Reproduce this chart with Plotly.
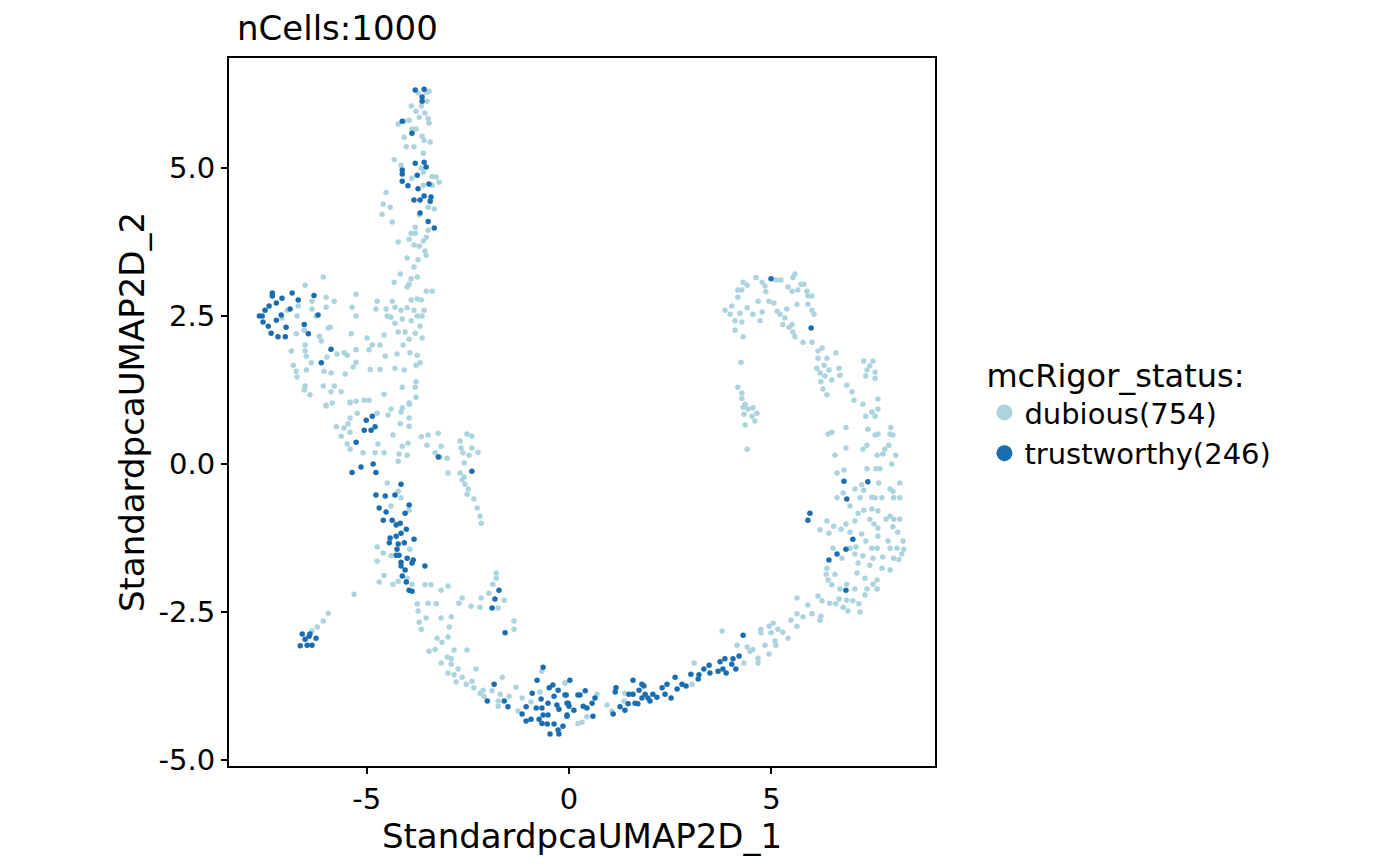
import plotly.graph_objects as go

## point positions, (UMAP_1, UMAP_2)
trustworthy_pts = [
    (-3.80, 6.32), (-3.58, 6.33), (-3.63, 6.20), (-3.63, 6.13), (-4.12, 5.79), (-3.88, 5.59),
    (-3.80, 5.08), (-3.58, 5.10), (-3.53, 5.02), (-4.12, 4.97), (-4.12, 4.90), (-4.12, 4.78),
    (-3.98, 4.70), (-3.73, 4.65), (-3.46, 4.73), (-3.58, 4.53), (-3.41, 4.51), (-3.43, 4.44),
    (-3.83, 4.46), (-3.68, 4.46), (-3.68, 4.24), (-3.48, 4.10), (-3.33, 3.99), (-3.75, 4.88),
    (-7.33, 2.89), (-7.33, 2.84), (-7.09, 2.80), (-6.84, 2.89), (-6.69, 2.77), (-6.30, 2.85),
    (-7.23, 2.72), (-7.41, 2.67), (-7.51, 2.60), (-7.65, 2.50), (-7.58, 2.50), (-7.11, 2.52),
    (-7.23, 2.43), (-7.56, 2.40), (-7.43, 2.33), (-6.99, 2.31), (-7.36, 2.21), (-7.19, 2.15),
    (-7.01, 2.15), (-6.54, 2.36), (-6.44, 2.20), (-6.20, 2.52), (-6.89, 2.62), (-5.88, 1.94),
    (-6.12, 1.71),
    (-5.01, 0.74), (-4.86, 0.81), (-5.06, 0.57), (-4.89, 0.57), (-4.79, 0.63), (-5.26, 0.37),
    (-5.36, -0.14), (-5.14, -0.05), (-4.84, 0.00), (-4.77, -0.14), (-4.15, -0.34), (-4.77, -0.52),
    (-4.54, -0.54), (-4.30, -0.52), (-3.95, -0.69), (-4.69, -0.74), (-4.52, -0.81), (-4.05, -0.83),
    (-4.59, -0.95), (-4.37, -0.95), (-4.27, -1.03), (-4.17, -1.00), (-4.02, -1.10), (-4.42, -1.25),
    (-4.27, -1.22), (-4.15, -1.17), (-3.83, -1.27), (-4.44, -1.33), (-4.22, -1.35), (-4.07, -1.33),
    (-4.25, -1.44), (-4.27, -1.54), (-4.20, -1.54), (-4.00, -1.59), (-3.85, -1.62), (-4.15, -1.66),
    (-3.88, -1.67), (-4.15, -1.72), (-3.56, -1.72), (-4.05, -1.79), (-4.12, -1.89), (-4.02, -1.99),
    (-3.95, -2.13), (-3.88, -2.15), (-2.40, -0.12), (-3.23, 0.12),
    (-6.59, -2.87), (-6.40, -2.87), (-6.25, -2.94), (-6.52, -2.96), (-6.64, -3.07), (-6.47, -3.06),
    (-6.35, -3.06), (-6.42, -2.91),
    (-1.73, -2.13), (-1.83, -2.28), (-1.90, -2.43), (-1.58, -2.85),
    (-0.64, -3.43), (-0.79, -3.65), (0.02, -3.65), (-1.85, -3.72), (-2.02, -4.00), (-1.60, -4.00),
    (-1.51, -4.10), (-0.91, -3.87), (-0.69, -3.97), (-0.49, -3.78), (-0.40, -3.73), (-0.27, -3.82),
    (-0.37, -3.92), (-0.07, -3.90), (0.22, -3.90), (-1.06, -4.10), (-0.81, -4.12), (-0.67, -4.12),
    (-0.52, -4.04), (-0.30, -4.07), (-0.02, -4.04), (0.00, -4.09), (0.12, -4.16), (-1.16, -4.22),
    (-1.06, -4.34), (-0.94, -4.31), (-0.74, -4.31), (-0.64, -4.24), (-0.52, -4.24), (-0.25, -4.14),
    (-0.05, -4.24), (-0.67, -4.38), (-0.54, -4.39), (-0.37, -4.39), (-0.15, -4.43), (-0.27, -4.49),
    (-0.47, -4.56), (-0.25, -4.56),
    (4.99, 3.13), (5.98, 2.30), (6.79, -0.29), (7.38, -0.30), (6.86, -0.59), (5.95, -0.83),
    (5.90, -0.95), (7.01, -1.27), (6.84, -1.44), (6.62, -1.52), (6.42, -1.62), (6.84, -2.13),
    (4.30, -2.89), (4.20, -3.24), (4.05, -3.29), (4.12, -3.46), (4.02, -3.38), (3.85, -3.29),
    (3.73, -3.34), (3.88, -3.53), (3.80, -3.46), (3.68, -3.50), (3.46, -3.40), (3.48, -3.53),
    (3.33, -3.46), (3.21, -3.56), (3.19, -3.63), (3.01, -3.55), (2.62, -3.60), (2.42, -3.72),
    (2.30, -3.78), (2.37, -3.89), (2.67, -3.80), (2.79, -3.72), (2.89, -3.75), (2.52, -3.95),
    (1.58, -3.65), (1.80, -3.72), (1.85, -3.75), (1.73, -3.82), (1.88, -3.89), (1.95, -3.95),
    (2.07, -3.89), (2.17, -3.94), (1.58, -3.89), (1.48, -3.89), (1.16, -3.78), (1.14, -3.85),
    (1.80, -3.95), (2.00, -4.00), (1.70, -4.05), (1.63, -4.04), (1.46, -4.05), (1.26, -4.10),
    (1.38, -4.16), (1.09, -4.22), (0.59, -4.26), (0.57, -4.04), (0.40, -3.83), (0.27, -3.90),
    (0.35, -4.09), (0.44, -4.12), (0.64, -3.95), (-0.10, -3.90), (-0.05, -4.04), (-0.05, -4.26),
]

dubious_pts = [
    # top stem
    (-3.46, 6.30), (-3.53, 6.28), (-3.73, 6.27), (-3.51, 6.13), (-3.90, 6.05), (-3.65, 6.05),
    (-3.78, 5.96), (-3.56, 5.93), (-3.70, 5.86), (-3.48, 5.84), (-3.46, 5.76), (-3.95, 5.81),
    (-4.07, 5.79), (-4.22, 5.74), (-3.88, 5.66), (-3.78, 5.66), (-3.63, 5.54), (-4.07, 5.52),
    (-3.58, 5.47), (-3.43, 5.44), (-4.02, 5.36), (-3.83, 5.36), (-3.60, 5.25), (-4.32, 5.14),
    (-4.15, 5.05), (-3.65, 5.00), (-3.60, 4.93), (-3.88, 4.83), (-3.38, 4.86), (-3.28, 4.85),
    (-3.21, 4.76), (-3.60, 4.71), (-3.38, 4.71), (-4.52, 4.59), (-4.59, 4.39), (-4.42, 4.34),
    (-4.62, 4.22), (-4.37, 4.09), (-3.48, 4.34), (-3.33, 4.31), (-3.70, 4.21), (-3.80, 4.00),
    (-3.90, 3.90), (-3.80, 3.90), (-3.48, 3.95), (-3.95, 3.80), (-4.22, 3.75), (-3.53, 3.83),
    (-3.60, 3.77), (-3.83, 3.70), (-3.70, 3.68), (-3.56, 3.60), (-3.53, 3.53), (-4.00, 3.48),
    (-3.73, 3.45), (-3.83, 3.33), (-4.17, 3.21), (-3.75, 3.16), (-3.90, 3.13), (-4.32, 3.07),
    (-3.95, 3.04), (-4.00, 2.99), (-3.53, 2.92), (-3.38, 2.92), (-6.07, 3.16), (-6.52, 3.02),
    # upper-left band
    (-6.00, 2.82), (-5.80, 2.75), (-5.26, 2.87), (-4.74, 2.75), (-4.37, 2.75), (-3.90, 2.77),
    (-3.75, 2.79), (-3.65, 2.77), (-6.35, 2.75), (-6.35, 2.62), (-6.00, 2.65), (-5.36, 2.65),
    (-4.77, 2.62), (-4.52, 2.62), (-4.30, 2.65), (-4.15, 2.60), (-4.00, 2.64), (-3.83, 2.60),
    (-3.58, 2.60), (-3.75, 2.50), (-3.63, 2.50), (-6.69, 2.67), (-6.72, 2.50), (-6.96, 2.60),
    (-7.09, 2.47), (-6.25, 2.50), (-5.26, 2.50), (-4.49, 2.50), (-4.40, 2.48), (-4.12, 2.45),
    (-4.30, 2.38), (-3.90, 2.42), (-3.68, 2.33), (-6.54, 2.26), (-6.74, 2.20), (-5.95, 2.30),
    (-5.90, 2.31), (-6.17, 2.16), (-6.12, 2.08), (-5.38, 2.20), (-4.99, 2.13), (-4.57, 2.18),
    (-4.22, 2.23), (-4.05, 2.23), (-3.95, 2.11), (-3.63, 2.13), (-3.80, 2.21), (-6.52, 2.01),
    (-6.52, 1.91), (-6.86, 1.91), (-6.49, 1.82), (-5.98, 1.81), (-5.73, 1.86), (-5.56, 1.88),
    (-5.48, 1.84), (-5.26, 1.93), (-4.86, 2.01), (-4.67, 2.01), (-4.94, 1.93), (-4.54, 1.82),
    (-4.25, 1.86), (-4.10, 2.01), (-3.93, 1.88), (-3.75, 1.84), (-6.37, 1.71), (-6.81, 1.67),
    (-6.74, 1.57), (-6.72, 1.47), (-6.49, 1.59), (-6.05, 1.57), (-5.88, 1.54), (-5.53, 1.52),
    (-5.33, 1.64), (-5.26, 1.72), (-4.91, 1.60), (-4.67, 1.60), (-4.30, 1.62), (-4.07, 1.59),
    (-3.78, 1.67), (-3.68, 1.71), (-6.52, 1.32), (-6.54, 1.25), (-6.40, 1.17), (-6.07, 1.32),
    (-5.80, 1.32), (-5.63, 1.22), (-5.88, 1.22), (-6.00, 1.00), (-5.41, 1.05), (-5.26, 1.06),
    (-5.06, 1.08), (-4.94, 1.08), (-4.57, 1.18), (-4.12, 1.30), (-3.78, 1.39), (-3.80, 1.30),
    (-3.78, 1.13), (-3.95, 1.03),
    # middle-left
    (-6.00, 0.98), (-5.85, 1.03), (-5.41, 1.03), (-5.23, 0.86), (-5.41, 0.78), (-5.46, 0.68),
    (-5.75, 0.63), (-5.56, 0.61), (-5.63, 0.47), (-5.41, 0.54), (-5.48, 0.34), (-5.41, 0.25),
    (-5.09, 0.19), (-4.74, 0.86), (-4.47, 0.83), (-4.40, 0.93), (-4.12, 0.95), (-3.95, 1.01),
    (-4.15, 0.88), (-3.95, 0.78), (-4.17, 0.68), (-3.95, 0.64), (-4.35, 0.49), (-4.72, 0.34),
    (-4.79, 0.19), (-4.57, 0.19), (-4.12, 0.30), (-3.98, 0.35), (-4.20, 0.17), (-4.00, 0.15),
    (-4.22, 0.05), (-3.65, 0.46), (-3.48, 0.49), (-3.23, 0.52), (-3.51, 0.32), (-3.16, 0.30),
    (-3.31, 0.19), (-3.19, 0.12), (-3.01, 0.10), (-2.99, -0.15), (-2.69, 0.39), (-2.52, 0.51),
    (-2.40, 0.47), (-2.67, 0.27), (-2.40, 0.27), (-2.25, 0.20), (-2.62, 0.19), (-2.47, 0.15),
    (-2.59, 0.02), (-2.69, -0.15), (-2.59, -0.22), (-2.64, -0.27), (-2.57, -0.34), (-2.49, -0.42),
    (-2.52, -0.51), (-2.35, -0.59), (-2.27, -0.74), (-2.20, -0.88), (-2.17, -1.00), (-4.49, -0.32),
    (-4.22, -0.46), (-4.15, -0.57), (-4.40, -0.71), (-3.95, -0.78), (-4.27, -1.01), (-4.74, -1.40),
    (-4.59, -1.50), (-4.40, -1.55), (-3.93, -1.44), (-4.74, -1.64), (-4.57, -1.88), (-4.69, -1.99),
    (-4.35, -2.03), (-4.22, -1.98), (-4.00, -1.93), (-3.88, -2.03), (-3.56, -2.04), (-3.41, -2.04),
    (-3.16, -2.13), (-2.99, -2.06), (-3.75, -2.36), (-3.73, -2.48), (-3.48, -2.35), (-3.28, -2.36),
    # lower arc
    (-3.70, -2.67), (-3.65, -2.79), (-3.53, -2.60), (-3.16, -2.60), (-2.91, -2.58), (-2.96, -2.75),
    (-3.26, -2.94), (-2.99, -2.92), (-3.14, -3.01), (-3.46, -3.16), (-3.31, -3.13), (-2.84, -3.14),
    (-2.52, -3.14), (-3.01, -3.26), (-2.91, -3.29), (-3.16, -3.36), (-2.91, -3.38), (-2.99, -3.53),
    (-2.74, -3.46), (-2.84, -3.56), (-2.64, -3.60), (-2.79, -3.68), (-2.54, -3.72), (-2.30, -3.46),
    (-2.40, -3.67), (-2.35, -3.78), (-2.20, -3.87), (-2.12, -3.82), (-2.10, -3.92), (-1.90, -3.83),
    (-1.65, -3.60), (-1.70, -3.89), (-1.48, -3.92), (-1.75, -4.00), (-1.75, -4.09), (-1.31, -3.77),
    (-1.16, -3.95), (-1.26, -4.17), (-0.94, -4.02), (-0.72, -3.85), (-0.67, -3.50), (-0.10, -3.70),
    (0.22, -4.38),
    (-5.31, -2.20), (-5.95, -2.52), (-6.07, -2.65), (-6.22, -2.75), (-6.35, -2.82),
    (-1.80, -1.84), (-1.80, -1.93), (-1.88, -2.03), (-1.98, -2.18), (-1.60, -2.30), (-2.17, -2.26),
    (-2.42, -2.40), (-2.20, -2.42), (-2.72, -2.35), (-2.64, -2.26), (-1.75, -2.43), (-1.36, -2.65),
    (-1.36, -2.79),
    # right arch
    (4.62, 3.15), (4.30, 3.07), (4.40, 3.02), (4.17, 2.94), (4.27, 2.94), (4.17, 2.82),
    (4.77, 3.07), (4.84, 3.01), (4.86, 2.91), (5.11, 3.11), (5.23, 3.11), (5.58, 3.21),
    (5.53, 3.15), (5.73, 3.04), (5.80, 3.04), (5.41, 2.99), (5.51, 2.92), (5.65, 2.94),
    (5.88, 2.92), (5.90, 2.84), (6.00, 2.84), (5.63, 2.70), (5.90, 2.70), (6.00, 2.60),
    (6.05, 2.53), (4.02, 2.67), (3.85, 2.60), (3.98, 2.53), (4.22, 2.55), (4.10, 2.42),
    (4.27, 2.40), (4.10, 2.26), (4.30, 2.15), (4.40, 2.64), (4.54, 2.53), (4.67, 2.75),
    (4.77, 2.57), (4.72, 2.42), (4.94, 2.75), (5.06, 2.72), (5.14, 2.58), (5.21, 2.53),
    (5.38, 2.62), (5.33, 2.47), (5.28, 2.36), (5.51, 2.36), (5.43, 2.31), (5.53, 2.23),
    (5.58, 2.15), (5.78, 2.06), (6.00, 2.06), (6.15, 1.91), (6.25, 1.96), (6.37, 1.79),
    (6.59, 1.88), (6.15, 1.79), (6.12, 1.62), (6.30, 1.67), (6.42, 1.59), (6.20, 1.54),
    (6.32, 1.49), (6.67, 1.62), (6.69, 1.50), (6.49, 1.42), (6.22, 1.39), (6.27, 1.27),
    (6.37, 1.17), (6.86, 1.33), (6.99, 1.22), (7.04, 1.08), (7.28, 1.74), (7.51, 1.74),
    (7.43, 1.66), (7.36, 1.59), (7.56, 1.55), (7.33, 1.49), (7.56, 1.45), (7.26, 1.01),
    (7.63, 1.10), (7.63, 0.93), (7.48, 0.88), (7.33, 0.81), (7.56, 0.81), (7.38, 0.59),
    (6.84, 0.62), (6.40, 0.51), (6.49, 0.54), (7.56, 0.49), (7.63, 0.51), (7.95, 0.62),
    (7.93, 0.51), (8.00, 0.49), (7.90, 0.32), (7.80, 0.25), (7.75, 0.17), (8.07, 0.15),
    (7.97, 0.00), (7.61, 0.15), (7.36, 0.32), (7.26, 0.25), (6.84, 0.27), (6.57, 0.15),
    (6.62, -0.15), (6.79, -0.10), (7.36, -0.08), (7.58, -0.08), (7.68, -0.08),
    # right flank
    (6.77, -0.49), (7.06, -0.42), (7.23, -0.35), (7.28, -0.44), (7.48, -0.56), (7.56, -0.57),
    (7.65, -0.32), (7.73, -0.57), (7.93, -0.42), (8.00, -0.46), (8.02, -0.57), (8.17, -0.32),
    (8.17, -0.57), (6.62, -0.57), (6.94, -0.71), (7.19, -0.57), (7.14, -0.83), (7.28, -0.78),
    (7.48, -0.76), (7.63, -0.79), (7.83, -0.93), (7.93, -0.88), (8.02, -0.93), (8.17, -0.93),
    (7.43, -0.93), (7.53, -1.01), (7.06, -0.96), (6.84, -1.01), (6.54, -1.05), (6.37, -0.96),
    (6.20, -1.11), (6.42, -1.17), (6.72, -1.10), (6.94, -1.15), (7.23, -1.18), (7.63, -1.08),
    (8.00, -1.06), (8.12, -1.15), (7.63, -1.22), (7.88, -1.30), (8.25, -1.30), (7.33, -1.30),
    (7.09, -1.40), (7.48, -1.42), (7.61, -1.42), (7.93, -1.42), (8.10, -1.42), (8.27, -1.44),
    (6.94, -1.42), (6.52, -1.42), (7.06, -1.52), (7.26, -1.55), (7.51, -1.59), (7.75, -1.57),
    (8.02, -1.59), (8.22, -1.52), (6.74, -1.59), (7.14, -1.67), (7.43, -1.71), (7.73, -1.76),
    (7.93, -1.79), (8.15, -1.61), (6.37, -1.76), (6.35, -1.86), (6.57, -1.86), (6.40, -1.96),
    (7.11, -1.84), (7.31, -1.93), (7.51, -2.03), (7.61, -1.96), (6.49, -2.04), (6.69, -2.11),
    (6.86, -2.03), (7.06, -2.11), (7.61, -2.11), (7.36, -2.11), (7.31, -2.21), (6.15, -2.23),
    (6.25, -2.31), (6.44, -2.35), (6.67, -2.28), (6.86, -2.30), (7.01, -2.31), (7.16, -2.36),
    (6.59, -2.36), (6.77, -2.42), (6.89, -2.48), (7.19, -2.50), (5.63, -2.26), (5.90, -2.38),
    (6.00, -2.53), (6.22, -2.57), (6.20, -2.64), (5.63, -2.53), (5.78, -2.58), (5.48, -2.64),
    (5.63, -2.74), (5.04, -2.69), (4.94, -2.74), (5.16, -2.79), (5.28, -2.84), (4.74, -2.79),
    (4.74, -2.85), (4.99, -2.85), (5.41, -2.94), (5.09, -2.99), (5.11, -3.06), (4.84, -3.06),
    (4.54, -3.13), (4.47, -3.16), (4.40, -3.09), (4.94, -3.21), (4.67, -3.28), (4.67, -3.36),
    (4.15, -3.06), (4.32, -3.36), (3.78, -2.82), (3.09, -3.36), (3.04, -3.72), (1.38, -3.87),
    (1.36, -4.00), (0.69, -3.89), (0.94, -4.07), (1.06, -4.17), (0.32, -4.36), (0.44, -4.27),
    (-0.10, -3.70),
    # small right strand
    (4.25, 1.72), (4.17, 1.30), (4.27, 1.20), (4.27, 1.11), (4.35, 1.01), (4.30, 0.96),
    (4.42, 0.93), (4.54, 0.95), (4.64, 0.86), (4.32, 0.84), (4.52, 0.81), (4.59, 0.73),
    (4.35, 0.66), (4.40, 0.25),
]

groups = ["dubious(754)", "trustworthy(246)"]
colors = ["#acd4de", "#1a6daf"]
x_ticks = [-5, 0, 5]
y_ticks = [-5.0, -2.5, 0.0, 2.5, 5.0]
y_labels = ["-5.0", "-2.5", "0.0", "2.5", "5.0"]

fig = go.Figure()
for name, pts, col in zip(groups, [dubious_pts, trustworthy_pts], colors):
    fig.add_trace(go.Scatter(x=[p[0] for p in pts], y=[p[1] for p in pts],
                             mode="markers", name=name, showlegend=False,
                             marker=dict(color=col, size=5.5, line_width=0)))
    ## empty trace just so the legend gets big dots like the reference
    fig.add_trace(go.Scatter(x=[None], y=[None], mode="markers", name=name,
                             marker=dict(color=col, size=20)))

ax = dict(showline=True, linecolor="black", linewidth=2, mirror=True,
          ticks="outside", tickcolor="black", ticklen=6, tickwidth=1.5,
          showgrid=False, zeroline=False,
          tickfont=dict(size=29, color="black"), title_font=dict(size=34, color="black"))

fig.update_xaxes(range=[-8.4, 9.04], tickvals=x_ticks, ticktext=["-5", "0", "5"],
                 title_text="StandardpcaUMAP2D_1", title_standoff=6, **ax)
fig.update_yaxes(range=[-5.1, 6.86], tickvals=y_ticks, ticktext=y_labels,
                 title_text="StandardpcaUMAP2D_2", title_standoff=4, **ax)

fig.update_layout(
    width=1400, height=866,
    margin=dict(l=221, r=473, t=50, b=108, autoexpand=False),
    plot_bgcolor="white", paper_bgcolor="white",
    font=dict(family="DejaVu Sans", color="black"),
    title=dict(text="nCells:1000", x=0, xref="paper", y=0.99, yref="container",
               xanchor="left", yanchor="top", font=dict(size=34), pad=dict(l=8)),
    legend=dict(x=1.07, y=0.5, xanchor="left", yanchor="middle",
                title=dict(text="mcRigor_status:", font=dict(size=32)),
                font=dict(size=29), tracegroupgap=0),
)

fig.write_html("out.html")
